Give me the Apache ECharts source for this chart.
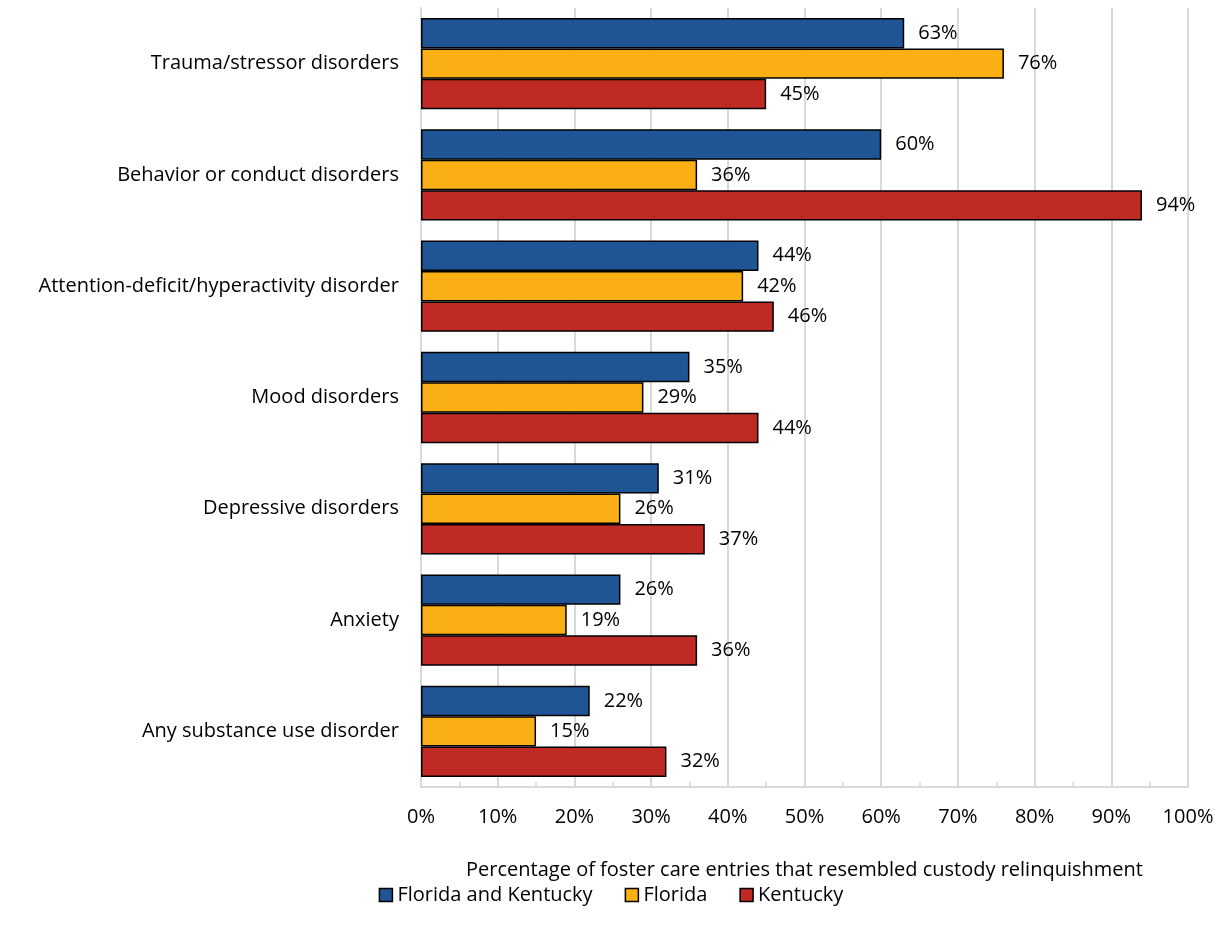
<!DOCTYPE html>
<html><head><meta charset="utf-8">
<script src="https://cdn.jsdelivr.net/npm/echarts@6/dist/echarts.min.js"></script>
<style>html,body{margin:0;padding:0;background:#fff}#c{width:1222px;height:935px}</style>
</head><body><div id="c"></div>
<script>
const categories = ["Trauma/stressor disorders","Behavior or conduct disorders","Attention-deficit/hyperactivity disorder","Mood disorders","Depressive disorders","Anxiety","Any substance use disorder"];
const seriesNames = ["Florida and Kentucky","Florida","Kentucky"];
const flKy = [63,60,44,35,31,26,22];
const fl = [76,36,42,29,26,19,15];
const ky = [45,94,46,44,37,36,32];
const xTicks = [0,10,20,30,40,50,60,70,80,90,100];
const axisTitle = "Percentage of foster care entries that resembled custody relinquishment";
const colors = ["#1F5595","#FAAF15","#C02A25"];
const font = "'Open Sans', sans-serif";
const fs = 20;
const chart = echarts.init(document.getElementById('c'));
const mk = (name, data, i) => ({
  name, type:'bar', data,
  barGap:'0%', barCategoryGap:'18%',
  itemStyle:{color:colors[i], borderColor:'#000', borderWidth:1.5},
  label:{show:true, position:'right', distance:14, formatter:'{c}%', color:'#000', fontSize:fs, fontFamily:font}
});
chart.setOption({
  animation:false,
  textStyle:{fontFamily:font},
  grid:{left:421, right:34, top:8, bottom:148, containLabel:false},
  legend:{bottom:25, left:'center', itemWidth:13, itemHeight:13, itemGap:32, icon:'rect',
    itemStyle:{borderColor:'#000', borderWidth:1.5},
    textStyle:{fontSize:fs, color:'#000', fontFamily:font}, data:seriesNames},
  xAxis:{type:'value', min:xTicks[0], max:xTicks[xTicks.length-1], interval:10,
    name:axisTitle, nameLocation:'middle', nameGap:73,
    nameTextStyle:{fontSize:fs, color:'#000', fontFamily:font},
    axisLine:{show:true, lineStyle:{color:'#d9d9d9', width:2}},
    axisTick:{show:false},
    minorTick:{show:true, splitNumber:2, length:-5, lineStyle:{color:'#d9d9d9', width:1.5}},
    splitLine:{show:true, lineStyle:{color:'#d9d9d9', width:2}},
    axisLabel:{formatter:'{value}%', fontSize:fs, color:'#000', margin:20, fontFamily:font}},
  yAxis:{type:'category', data:categories, inverse:true,
    axisLine:{show:true, lineStyle:{color:'#d9d9d9', width:2}},
    axisTick:{show:false},
    axisLabel:{fontSize:fs, color:'#000', margin:22, fontFamily:font}},
  series:[mk(seriesNames[0], flKy, 0), mk(seriesNames[1], fl, 1), mk(seriesNames[2], ky, 2)]
});
</script></body></html>
